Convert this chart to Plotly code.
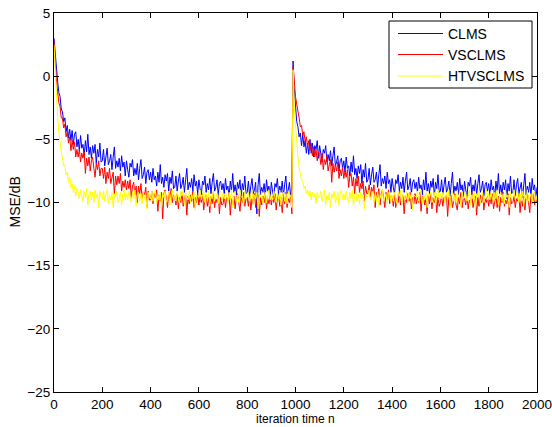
import plotly.graph_objects as go

iterations = list(range(0, 2001, 5))

clms = [
    3.0, 1.6, 0.2, -0.4, -1.3, -1.6, -2.6, -2.8, -3.6, -3.3, -4.4, -3.9, -4.9, -4.2, -5.1, -4.3, -5.4, -4.6, -4.4, -5.6,
    -5.0, -5.9, -4.7, -5.7, -5.4, -6.3, -5.1, -6.0, -4.6, -6.2, -5.6, -6.5, -5.5, -6.1, -5.4, -6.9, -5.8, -6.4, -5.3, -6.8,
    -6.7, -5.8, -7.1, -6.3, -5.7, -7.0, -6.7, -6.2, -7.4, -6.4, -5.6, -7.3, -6.7, -7.2, -6.5, -7.5, -6.3, -7.2, -6.8, -7.9,
    -6.7, -7.4, -8.0, -6.9, -7.2, -6.6, -7.9, -7.3, -7.8, -6.9, -8.2, -7.3, -6.6, -8.1, -7.8, -7.2, -8.5, -7.6, -7.4, -8.2,
    -7.6, -8.4, -7.3, -8.2, -7.9, -8.7, -7.6, -8.4, -7.0, -8.5, -8.0, -8.8, -7.8, -8.3, -7.7, -9.1, -8.0, -8.5, -7.5, -8.9,
    -8.8, -7.9, -9.1, -8.3, -7.7, -8.9, -8.6, -8.0, -9.2, -8.2, -7.3, -9.0, -8.4, -8.8, -8.1, -9.1, -7.8, -8.7, -8.3, -9.3,
    -8.2, -8.9, -9.4, -8.3, -8.6, -7.9, -9.2, -8.5, -9.0, -8.1, -9.3, -8.4, -7.7, -9.1, -8.8, -8.2, -9.4, -8.5, -8.3, -9.0,
    -8.5, -9.3, -8.1, -9.0, -8.7, -9.5, -8.3, -9.1, -7.7, -9.2, -8.6, -9.4, -8.4, -8.9, -8.2, -9.6, -8.5, -9.0, -7.9, -9.3,
    -9.2, -8.3, -9.5, -8.7, -8.1, -9.3, -9.0, -8.4, -10.9, -8.6, -7.7, -9.4, -8.8, -9.2, -8.5, -9.5, -8.2, -9.1, -8.7, -9.7,
    -8.4, -9.1, -9.6, -8.5, -8.8, -8.1, -9.4, -8.7, -9.2, -8.3, -9.5, -8.6, -7.9, -9.3, -9.0, -8.4, -9.6, -8.7, 1.2, -1.0,
    -2.5, -3.6, -4.0, -4.8, -4.5, -5.5, -4.6, -5.6, -5.1, -6.1, -5.3, -6.2, -5.0, -6.1, -5.3, -6.4, -5.5, -5.8, -5.1, -6.5,
    -5.5, -6.3, -6.8, -5.8, -6.1, -5.5, -6.8, -6.2, -6.7, -5.9, -7.1, -6.3, -5.6, -7.1, -6.8, -6.3, -7.5, -6.7, -6.5, -7.3,
    -6.7, -7.6, -6.4, -7.3, -7.1, -7.9, -6.8, -7.6, -6.3, -7.8, -7.3, -8.1, -7.1, -7.7, -7.0, -8.5, -7.4, -8.0, -6.9, -8.4,
    -8.2, -7.3, -8.6, -7.8, -7.2, -8.4, -8.2, -7.6, -8.8, -7.8, -7.0, -8.7, -8.1, -8.5, -7.9, -8.9, -7.6, -8.5, -8.2, -9.2,
    -8.1, -8.8, -9.3, -8.2, -8.5, -7.8, -9.1, -8.4, -8.9, -8.0, -9.2, -8.3, -7.6, -9.0, -8.7, -8.1, -9.3, -8.4, -8.2, -8.9,
    -8.4, -9.2, -8.0, -8.9, -8.6, -9.4, -8.2, -9.0, -7.6, -9.1, -8.5, -9.3, -8.3, -8.8, -8.1, -9.5, -8.4, -8.9, -7.8, -9.2,
    -9.1, -8.2, -9.4, -8.6, -8.0, -9.2, -8.9, -8.3, -9.5, -8.5, -7.6, -9.3, -8.7, -9.1, -8.4, -9.4, -8.1, -9.0, -8.6, -9.6,
    -8.3, -9.0, -9.5, -8.4, -8.7, -8.0, -9.3, -8.6, -9.1, -8.2, -9.4, -8.5, -7.8, -9.2, -8.9, -8.3, -9.5, -8.6, -8.4, -9.1,
    -8.5, -9.4, -8.2, -9.0, -8.7, -9.6, -8.3, -9.1, -7.7, -9.3, -8.6, -9.4, -8.4, -9.0, -8.2, -9.7, -8.5, -9.1, -7.9, -9.3,
    -9.2, -8.2, -9.5, -8.6, -8.1, -9.3, -8.9, -8.4, -9.6, -8.5, -7.7, -9.4, -8.7, -9.2, -8.4, -9.5, -8.1, -9.0, -8.6, -9.7,
    -8.8,
]

vsclms = [
    2.8, 1.0, -0.3, -1.2, -2.1, -2.4, -3.3, -3.3, -4.1, -3.8, -4.8, -4.4, -5.3, -4.8, -5.9, -5.1, -5.8, -5.2, -6.4, -5.8,
    -6.4, -5.8, -6.8, -6.1, -6.5, -6.0, -7.7, -6.5, -7.1, -6.4, -7.5, -6.7, -6.4, -7.3, -8.0, -6.9, -7.4, -6.7, -7.9, -7.3,
    -7.3, -8.1, -7.2, -8.5, -7.6, -8.1, -7.3, -8.5, -8.0, -7.6, -9.4, -7.9, -8.6, -7.9, -8.5, -7.7, -9.1, -8.3, -8.8, -8.2,
    -9.0, -8.3, -8.9, -8.2, -9.6, -8.7, -8.4, -9.4, -8.7, -10.0, -8.7, -9.3, -8.5, -9.7, -9.1, -9.4, -8.8, -10.4, -9.1, -9.8,
    -9.8, -9.1, -10.1, -9.3, -9.6, -9.0, -10.7, -9.4, -9.9, -9.2, -11.3, -9.3, -9.0, -9.8, -10.4, -9.2, -9.7, -8.9, -10.0, -9.4,
    -9.5, -10.2, -9.3, -10.5, -9.6, -10.0, -9.2, -10.3, -9.8, -9.3, -11.0, -9.5, -10.1, -9.4, -9.9, -9.1, -10.4, -9.6, -10.0, -9.3,
    -10.2, -9.5, -10.0, -9.3, -10.6, -9.7, -9.4, -10.3, -9.6, -10.8, -9.5, -10.1, -9.2, -10.4, -9.7, -10.0, -9.4, -10.9, -9.6, -10.2,
    -10.1, -9.4, -10.4, -9.6, -9.9, -9.3, -11.0, -9.7, -10.2, -9.5, -10.5, -9.6, -9.3, -10.1, -10.7, -9.5, -10.0, -9.2, -10.3, -9.7,
    -9.6, -10.3, -9.4, -10.6, -9.7, -10.1, -9.3, -10.4, -9.9, -9.4, -11.1, -9.6, -10.2, -9.5, -10.0, -9.2, -10.5, -9.7, -10.1, -9.4,
    -10.2, -9.5, -10.0, -9.3, -10.6, -9.7, -9.4, -10.3, -9.6, -10.8, -9.5, -10.1, -9.2, -10.4, -9.7, -10.0, -9.4, -10.9, 0.8, -0.6,
    -1.6, -2.2, -3.0, -3.3, -4.0, -3.9, -4.7, -4.4, -5.2, -4.8, -5.6, -5.1, -5.9, -5.3, -6.3, -5.6, -6.4, -5.8, -6.7, -6.0,
    -6.2, -7.0, -6.1, -7.4, -6.6, -7.0, -6.3, -7.5, -7.0, -6.6, -8.4, -6.9, -7.6, -7.0, -7.5, -6.8, -8.1, -7.4, -7.9, -7.2,
    -8.1, -7.5, -8.0, -7.4, -8.8, -7.9, -7.7, -8.7, -8.0, -9.3, -8.1, -8.7, -7.9, -9.2, -8.5, -8.9, -8.3, -9.9, -8.7, -9.3,
    -9.3, -8.6, -9.6, -8.8, -9.2, -8.6, -10.4, -9.2, -9.6, -8.9, -10.2, -9.3, -9.0, -9.8, -10.4, -9.2, -9.8, -9.0, -10.1, -9.5,
    -9.5, -10.3, -9.3, -10.4, -9.7, -10.0, -9.1, -10.2, -9.8, -9.4, -10.9, -9.5, -10.0, -9.3, -9.9, -9.2, -10.5, -9.6, -10.1, -9.3,
    -10.1, -9.6, -10.0, -9.2, -10.7, -9.6, -9.4, -10.2, -9.7, -10.9, -9.4, -10.1, -9.3, -10.5, -9.6, -10.0, -9.5, -10.8, -9.6, -10.3,
    -10.0, -9.5, -10.3, -9.6, -9.8, -9.4, -11.1, -9.6, -10.2, -9.4, -10.4, -9.7, -9.3, -10.2, -10.6, -9.5, -10.1, -9.2, -10.4, -9.6,
    -9.7, -10.2, -9.4, -10.5, -9.8, -10.1, -9.2, -10.4, -9.8, -9.5, -11.0, -9.6, -10.3, -9.4, -10.0, -9.3, -10.6, -9.7, -10.0, -9.5,
    -10.3, -9.4, -10.1, -9.3, -10.5, -9.8, -9.4, -10.4, -9.5, -10.7, -9.6, -10.0, -9.2, -10.3, -9.8, -10.1, -9.3, -11.0, -9.6, -10.1,
    -10.0, -9.5, -10.4, -9.7, -9.9, -9.3, -10.8, -9.6, -10.3, -9.5, -10.6, -9.5, -9.3, -10.0, -10.8, -9.4, -10.1, -9.3, -10.2, -9.7,
    -10.0,
]

htvsclms = [
    2.5, 0.2, -1.8, -3.2, -4.4, -5.3, -6.0, -6.4, -7.1, -7.0, -7.8, -7.6, -8.4, -8.0, -8.8, -8.5, -9.2, -8.7, -9.5, -8.9,
    -9.2, -9.7, -9.0, -9.5, -9.9, -9.1, -9.6, -8.9, -10.2, -9.3, -9.1, -9.8, -9.2, -10.0, -9.0, -9.6, -9.3, -10.4, -9.1, -9.5,
    -9.7, -9.1, -9.9, -9.3, -9.0, -10.1, -9.4, -9.8, -9.2, -10.4, -9.3, -9.6, -9.1, -10.0, -9.7, -9.2, -10.2, -9.3, -9.0, -9.8,
    -9.3, -9.8, -9.1, -9.6, -10.0, -9.2, -9.7, -9.0, -10.3, -9.4, -9.2, -9.9, -9.3, -10.1, -9.1, -9.7, -9.4, -10.5, -9.2, -9.6,
    -9.7, -9.1, -9.9, -9.3, -9.0, -10.1, -9.4, -9.8, -9.2, -10.4, -9.3, -9.6, -9.1, -10.0, -9.7, -9.2, -10.2, -9.3, -9.0, -9.8,
    -9.4, -9.9, -9.2, -9.6, -10.1, -9.1, -9.5, -9.0, -10.2, -9.3, -9.6, -9.8, -9.1, -10.0, -9.3, -9.7, -9.2, -10.6, -9.4, -9.5,
    -9.6, -9.0, -9.8, -9.4, -9.1, -10.0, -9.3, -9.9, -9.1, -10.3, -9.4, -9.7, -9.0, -9.9, -9.6, -9.3, -10.1, -9.2, -9.1, -9.9,
    -9.3, -9.7, -9.2, -9.5, -10.1, -9.2, -9.8, -9.0, -10.4, -9.3, -9.1, -9.9, -9.4, -10.0, -9.0, -9.6, -9.5, -10.3, -9.1, -9.7,
    -9.5, -9.2, -9.9, -9.3, -9.0, -10.2, -9.4, -9.7, -9.2, -10.5, -9.3, -9.6, -9.1, -10.1, -9.6, -9.2, -10.0, -9.4, -9.0, -9.8,
    -9.3, -9.8, -9.1, -9.6, -10.0, -9.2, -9.7, -9.0, -10.2, -9.4, -9.2, -9.9, -9.3, -10.1, -9.1, -9.6, -9.4, -10.4, 0.5, -2.5,
    -4.0, -5.4, -6.4, -7.2, -7.6, -8.2, -8.3, -8.9, -8.7, -9.3, -9.0, -9.5, -9.1, -9.8, -9.2, -9.6, -9.3, -10.1, -9.2, -9.5,
    -9.6, -9.1, -9.9, -9.3, -9.0, -10.2, -9.4, -9.8, -9.2, -10.4, -9.3, -9.6, -9.1, -10.0, -9.7, -9.2, -10.2, -9.3, -9.0, -9.8,
    -9.3, -9.8, -9.1, -9.6, -10.0, -9.2, -9.7, -9.0, -10.3, -9.4, -9.2, -9.9, -9.3, -10.1, -9.1, -9.7, -9.4, -10.5, -9.2, -9.6,
    -9.5, -9.0, -9.8, -9.4, -9.1, -10.0, -9.3, -9.9, -9.1, -10.3, -9.4, -9.7, -9.0, -9.9, -9.6, -9.3, -10.1, -9.2, -9.1, -9.9,
    -9.4, -9.9, -9.2, -9.6, -10.1, -9.1, -9.5, -9.0, -10.2, -9.3, -9.6, -9.8, -9.1, -10.0, -9.3, -9.7, -9.2, -10.6, -9.4, -9.5,
    -9.6, -9.1, -9.9, -9.3, -9.0, -10.1, -9.4, -9.8, -9.2, -10.4, -9.3, -9.6, -9.1, -10.0, -9.7, -9.2, -10.2, -9.3, -9.0, -9.8,
    -9.3, -9.7, -9.2, -9.5, -10.1, -9.2, -9.8, -9.0, -10.4, -9.3, -9.1, -9.9, -9.4, -10.0, -9.0, -9.6, -9.5, -10.3, -9.1, -9.7,
    -9.5, -9.2, -9.9, -9.3, -9.0, -10.2, -9.4, -9.7, -9.2, -10.5, -9.3, -9.6, -9.1, -10.1, -9.6, -9.2, -10.0, -9.4, -9.0, -9.8,
    -9.3, -9.8, -9.1, -9.6, -10.0, -9.2, -9.7, -9.0, -10.2, -9.4, -9.2, -9.9, -9.3, -10.1, -9.1, -9.6, -9.4, -10.4, -9.2, -9.7,
    -9.6, -9.0, -9.8, -9.4, -9.1, -10.0, -9.3, -9.9, -9.1, -10.3, -9.4, -9.7, -9.0, -9.9, -9.6, -9.3, -10.1, -9.2, -9.1, -9.9,
    -9.4,
]

series_names = ["CLMS", "VSCLMS", "HTVSCLMS"]
series_colors = ["#0000ff", "#ff0000", "#ffff00"]
x_ticks = list(range(0, 2001, 200))
y_ticks = [5, 0, -5, -10, -15, -20, -25]
x_title = "iteration time n"
y_title = "MSE/dB"

FONT = "Liberation Sans, Arial, sans-serif"

fig = go.Figure()
for name, vals, col in zip(series_names, [clms, vsclms, htvsclms], series_colors):
    fig.add_trace(go.Scatter(x=iterations, y=vals, mode="lines", name=name,
                             line=dict(color=col, width=1), showlegend=False))

axis_common = dict(showline=True, linecolor="black", linewidth=1, mirror="ticks",
                   ticks="inside", ticklen=5, tickcolor="black", showgrid=False,
                   zeroline=False, automargin=False, ticklabeloverflow="allow",
                   tickfont=dict(family=FONT, size=13.5, color="black"))

# plot area in pixels: x 54..537, y 13..392
L, R, T, B = 54, 15, 13, 35
PW, PH = 552 - L - R, 427 - T - B

def px_x(p):
    return (p - L) / PW

def px_y(p):
    return (427 - B - p) / PH

shapes = []
annotations = []
# legend box
shapes.append(dict(type="rect", xref="paper", yref="paper",
                   x0=px_x(389), x1=px_x(532), y0=px_y(88), y1=px_y(21),
                   line=dict(color="black", width=1), fillcolor="white", layer="above"))
row_y = [33.5, 54.5, 76]
for name, col, ry in zip(series_names, series_colors, row_y):
    shapes.append(dict(type="line", xref="paper", yref="paper",
                       x0=px_x(398), x1=px_x(443), y0=px_y(ry), y1=px_y(ry),
                       line=dict(color=col, width=1), layer="above"))
    annotations.append(dict(text=name, xref="paper", yref="paper",
                            x=px_x(446), y=px_y(ry), xanchor="left", yanchor="middle",
                            showarrow=False, font=dict(family=FONT, size=14, color="black")))

# axis titles
annotations.append(dict(text=x_title, xref="paper", yref="paper", x=0.5, y=0,
                        yshift=-B, xanchor="center", yanchor="bottom", showarrow=False,
                        borderpad=0, font=dict(family=FONT, size=12, color="black")))
annotations.append(dict(text=y_title, xref="paper", yref="paper", x=0, y=0.5,
                        xshift=-40, xanchor="center", yanchor="middle", textangle=-90,
                        showarrow=False, font=dict(family=FONT, size=14, color="black")))

fig.update_layout(
    width=552, height=427,
    margin=dict(l=L, r=R, t=T, b=B),
    paper_bgcolor="white", plot_bgcolor="white",
    font=dict(family=FONT, size=13.5, color="black"),
    xaxis=dict(range=[0, 2000], tickvals=x_ticks, **axis_common),
    yaxis=dict(range=[-25, 5], tickvals=y_ticks, **axis_common),
    shapes=shapes,
    annotations=annotations,
    showlegend=False,
)

fig.write_html("out.html")
